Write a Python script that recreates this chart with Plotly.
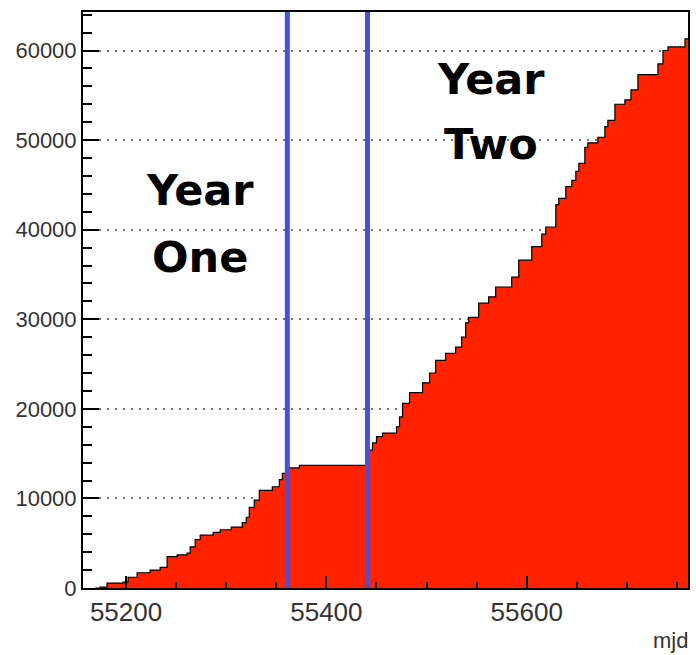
import plotly.graph_objects as go

# cumulative events vs MJD (step curve)
mjd_steps = [55169, 55174, 55181, 55197, 55202, 55211, 55224, 55234, 55241, 55251,
             55261, 55264, 55269, 55274, 55287, 55294, 55305, 55316, 55320, 55323,
             55328, 55333, 55346, 55353, 55356, 55361, 55373, 55441, 55446, 55450,
             55456, 55470, 55473, 55476, 55483, 55496, 55503, 55509, 55519, 55529,
             55535, 55539, 55542, 55552, 55562, 55569, 55585, 55592, 55605, 55615,
             55619, 55629, 55632, 55639, 55645, 55649, 55652, 55658, 55661, 55671,
             55678, 55681, 55688, 55698, 55704, 55711, 55731, 55736, 55741, 55758,
             55762]
cumulative = [0, 100, 550, 650, 1200, 1700, 2000, 2300, 3500, 3700,
              3900, 4600, 5400, 5900, 6200, 6500, 6800, 7300, 7900, 9000,
              9800, 10900, 11300, 12100, 12800, 13400, 13700, 15400, 16200, 16900,
              17300, 18000, 19100, 20600, 21800, 22900, 24000, 25400, 26200, 26900,
              28000, 29600, 30200, 31800, 32500, 33600, 34700, 36600, 38100, 39500,
              40300, 42800, 43500, 44800, 45500, 46500, 47400, 49200, 49700, 50300,
              51500, 52200, 54000, 54500, 55600, 57300, 58500, 60000, 60400, 61300,
              61300]

year_boundaries = [55361, 55441]
x_ticks = [55200, 55400, 55600]
y_ticks = [0, 10000, 20000, 30000, 40000, 50000, 60000]
x_range = [55157, 55761]
y_range = [0, 64300]

fig = go.Figure()
fig.add_trace(go.Scatter(
    x=mjd_steps, y=cumulative, mode="lines", line_shape="hv",
    fill="tozeroy", fillcolor="rgb(255,34,0)",
    line=dict(color="black", width=1.2), showlegend=False, hoverinfo="skip",
))

for xb in year_boundaries:
    fig.add_shape(type="line", xref="x", yref="paper", x0=xb, x1=xb, y0=0, y1=1,
                  line=dict(color="rgb(72,80,216)", width=5))

label_font = dict(family="DejaVu Sans", size=43, color="black")
for txt, px, py in [("Year", 0.193, 0.691), ("One", 0.193, 0.575),
                    ("Year", 0.674, 0.884), ("Two", 0.674, 0.771)]:
    fig.add_annotation(text="<b>%s</b>" % txt, xref="paper", yref="paper",
                       x=px, y=py, showarrow=False, font=label_font,
                       xanchor="center", yanchor="middle")

fig.add_annotation(text="mjd", xref="paper", yref="paper", x=1.0, y=-0.092,
                   xanchor="right", yanchor="middle", showarrow=False, xshift=2,
                   font=dict(family="Liberation Sans", size=22, color="#333"))

fig.update_layout(
    width=696, height=655,
    margin=dict(l=83, r=6, t=12, b=67),
    paper_bgcolor="white", plot_bgcolor="white",
    xaxis=dict(range=x_range, tickvals=x_ticks, ticktext=[str(v) for v in x_ticks],
               ticks="inside", ticklen=12, tickwidth=2, tickcolor="black",
               minor=dict(dtick=50, ticks="inside", ticklen=6, tickwidth=2, tickcolor="black"),
               showline=True, linecolor="black", linewidth=2, mirror=True,
               showgrid=False, zeroline=False,
               tickfont=dict(family="Liberation Sans", size=26, color="#333")),
    yaxis=dict(range=y_range, tickvals=y_ticks, ticktext=[str(v) for v in y_ticks],
               ticks="inside", ticklen=16, tickwidth=2, tickcolor="black",
               minor=dict(dtick=2000, ticks="inside", ticklen=9, tickwidth=2, tickcolor="black"),
               showline=True, linecolor="black", linewidth=2, mirror=True,
               showgrid=True, gridcolor="#777", gridwidth=2, griddash="2px,6px",
               zeroline=False,
               tickfont=dict(family="Liberation Sans", size=22, color="#333")),
)

# remove the default page margin so the 696x655 figure fills the window exactly
fig.write_html("out.html", config={"displayModeBar": False},
               post_script="document.body.style.margin='0';document.body.style.overflow='hidden';")
